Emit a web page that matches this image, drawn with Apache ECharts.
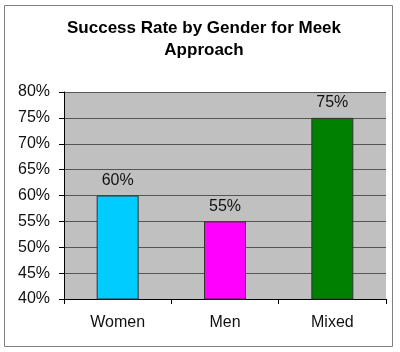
<!DOCTYPE html>
<html>
<head>
<meta charset="utf-8">
<script src="https://cdn.jsdelivr.net/npm/echarts@6/dist/echarts.min.js"></script>
<style>
  html, body { margin: 0; padding: 0; background: #fff; }
  #chart { width: 400px; height: 352px; }
</style>
</head>
<body>
<div id="chart"></div>
<script>
// data
let categories = ['Women', 'Men', 'Mixed'];
let successRate = [60, 55, 75];
let barColors = ['#00CCFF', '#FF00FF', '#008000'];

let chart = echarts.init(document.getElementById('chart'), null, { renderer: 'canvas' });

let option = {
    backgroundColor: '#fff',
    animation: false,
    graphic: [{
        type: 'rect',
        shape: { x: 4.5, y: 5.5, width: 388, height: 341 },
        style: { fill: 'none', stroke: '#808080', lineWidth: 1 },
        silent: true
    }],
    title: {
        text: 'Success Rate by Gender for Meek\nApproach',
        left: 199,
        textAlign: 'center',
        top: 12,
        textStyle: {
            fontFamily: 'Liberation Sans',
            fontWeight: 'bold',
            fontSize: 17,
            lineHeight: 22,
            color: '#000'
        }
    },
    grid: {
        left: 64,
        right: 14,
        top: 92,
        bottom: 53,
        show: true,
        backgroundColor: '#C0C0C0',
        borderWidth: 0
    },
    xAxis: {
        type: 'category',
        data: categories,
        axisLine: { lineStyle: { color: '#000', width: 1 } },
        axisTick: { show: true, length: 5, lineStyle: { color: '#000' } },
        axisLabel: {
            fontFamily: 'Liberation Sans',
            fontSize: 16,
            color: '#111',
            margin: 16
        }
    },
    yAxis: {
        type: 'value',
        min: 40,
        max: 80,
        interval: 5,
        axisLine: { show: true, lineStyle: { color: '#000', width: 1 } },
        axisTick: { show: true, length: 5, lineStyle: { color: '#000' } },
        splitLine: { lineStyle: { color: '#555', width: 1 } },
        axisLabel: {
            formatter: '{value}%',
            fontFamily: 'Liberation Sans',
            fontSize: 16,
            color: '#111',
            margin: 14
        }
    },
    series: [{
        type: 'bar',
        barWidth: 42,
        data: successRate.map(function (v, i) {
            return { value: v, itemStyle: { color: barColors[i] } };
        }),
        itemStyle: { borderColor: '#333', borderWidth: 1 },
        label: {
            show: true,
            position: 'top',
            distance: 7,
            formatter: '{c}%',
            fontFamily: 'Liberation Sans',
            fontSize: 16,
            color: '#111'
        }
    }]
};

chart.setOption(option);
</script>
</body>
</html>
